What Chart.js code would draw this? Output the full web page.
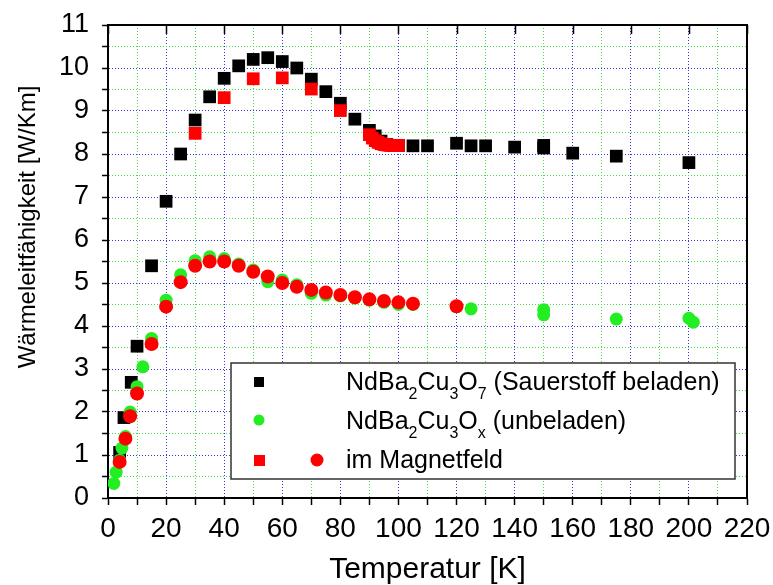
<!DOCTYPE html>
<html>
<head>
<meta charset="utf-8">
<script src="https://cdn.jsdelivr.net/npm/chart.js@4.4.0/dist/chart.umd.min.js"></script>
<style>
  html, body { margin: 0; padding: 0; background: #fff; }
  #chart { display: block; }
</style>
</head>
<body>
<canvas id="chart" width="773" height="585"></canvas>
<script>
// NdBa2Cu3O7, oxygen loaded (black squares)
const tempLoaded = [4, 5.5, 8, 10, 15, 20, 25, 30, 35, 40, 45, 50, 55, 60, 65, 70, 75, 80, 85, 90, 92, 94, 96, 98, 100, 105, 110, 120, 125, 130, 140, 150, 150, 160, 175, 200];
const kLoaded = [1.06, 1.87, 2.69, 3.53, 5.4, 6.9, 8.0, 8.79, 9.33, 9.76, 10.05, 10.2, 10.24, 10.15, 10.0, 9.74, 9.45, 9.18, 8.81, 8.55, 8.42, 8.3, 8.22, 8.2, 8.2, 8.19, 8.19, 8.25, 8.19, 8.19, 8.16, 8.2, 8.14, 8.02, 7.95, 7.8];

// NdBa2Cu3Ox, not loaded (green circles)
const tempUnloaded = [2, 2.8, 4, 4.8, 6, 7.6, 10, 12, 15, 20, 25, 30, 35, 40, 45, 50, 55, 60, 65, 70, 75, 80, 85, 90, 95, 100, 105, 120, 125, 150, 150, 175, 200, 201.5];
const kUnloaded = [0.34, 0.6, 0.88, 1.16, 1.43, 2.0, 2.59, 3.05, 3.71, 4.6, 5.19, 5.52, 5.61, 5.57, 5.44, 5.3, 5.03, 5.07, 4.96, 4.76, 4.72, 4.7, 4.65, 4.6, 4.55, 4.5, 4.5, 4.45, 4.4, 4.38, 4.26, 4.16, 4.18, 4.09];

// in magnetic field: loaded sample (red squares)
const tempFieldLoaded = [30, 40, 50, 60, 70, 80, 90, 91, 92, 93, 94, 95, 96, 97, 98, 99, 100];
const kFieldLoaded = [8.48, 9.31, 9.75, 9.77, 9.51, 9.01, 8.45, 8.37, 8.31, 8.27, 8.24, 8.22, 8.21, 8.2, 8.2, 8.2, 8.2];

// in magnetic field: unloaded sample (red circles)
const tempFieldUnloaded = [4, 6, 7.6, 10, 15, 20, 25, 30, 35, 40, 45, 50, 55, 60, 65, 70, 75, 80, 85, 90, 95, 100, 105, 120];
const kFieldUnloaded = [0.84, 1.38, 1.9, 2.43, 3.58, 4.45, 5.02, 5.4, 5.5, 5.5, 5.4, 5.26, 5.15, 5.0, 4.91, 4.84, 4.78, 4.72, 4.67, 4.62, 4.58, 4.55, 4.52, 4.46];

const xTickLabels = [0, 20, 40, 60, 80, 100, 120, 140, 160, 180, 200, 220];
const yTickLabels = [0, 1, 2, 3, 4, 5, 6, 7, 8, 9, 10, 11];

const FONT = '"Liberation Sans", Arial, sans-serif';
const BLUE_GRID = '#3535dd';
const GREEN_GRID = '#44dd44';

const pts = (xs, ys) => xs.map((x, i) => ({ x, y: ys[i] }));

// draws text with subscript parts: [[text, isSub], ...]
function richText(ctx, parts, x, y) {
  for (const [t, sub] of parts) {
    ctx.font = (sub ? '16px ' : '25px ') + FONT;
    ctx.fillText(t, x, sub ? y + 9 : y);
    x += ctx.measureText(t).width;
  }
}

const framePlugin = {
  id: 'frame',
  afterDraw(chart) {
    const { ctx, chartArea: a, scales: { x } } = chart;
    ctx.save();
    ctx.strokeStyle = '#000';
    ctx.lineWidth = 2;
    ctx.beginPath();
    ctx.moveTo(a.left, a.top);
    ctx.lineTo(a.right, a.top);
    ctx.lineTo(a.right, a.bottom);
    ctx.stroke();
    // inward ticks on the top edge
    ctx.lineWidth = 1.5;
    ctx.beginPath();
    xTickLabels.forEach(v => {
      const px = Math.round(x.getPixelForValue(v)) + 0.5;
      ctx.moveTo(px, a.top);
      ctx.lineTo(px, a.top + 9);
    });
    ctx.stroke();

    // y axis title, sitting a bit above the middle of the axis
    ctx.save();
    ctx.translate(28, 227);
    ctx.rotate(-Math.PI / 2);
    ctx.font = '24px ' + FONT;
    ctx.fillStyle = '#000';
    ctx.textAlign = 'center';
    ctx.textBaseline = 'middle';
    ctx.fillText('Wärmeleitfähigkeit [W/Km]', 0, 0);
    ctx.restore();

    // legend box
    const bx = 231, by = 363, bw = 504, bh = 116;
    ctx.fillStyle = '#fff';
    ctx.fillRect(bx, by, bw, bh);
    ctx.strokeStyle = '#333';
    ctx.lineWidth = 1.5;
    ctx.strokeRect(bx, by, bw, bh);

    ctx.fillStyle = '#000';
    ctx.fillRect(254, 377, 10, 10);
    ctx.fillStyle = '#22ee22';
    ctx.beginPath(); ctx.arc(259, 420, 5.5, 0, Math.PI * 2); ctx.fill();
    ctx.fillStyle = '#ff0000';
    ctx.fillRect(254, 455, 11, 11);
    ctx.beginPath(); ctx.arc(317, 460, 6.5, 0, Math.PI * 2); ctx.fill();

    ctx.fillStyle = '#000';
    ctx.textBaseline = 'alphabetic';
    ctx.textAlign = 'left';
    richText(ctx, [['NdBa', 0], ['2', 1], ['Cu', 0], ['3', 1], ['O', 0], ['7', 1], [' (Sauerstoff beladen)', 0]], 346, 390);
    richText(ctx, [['NdBa', 0], ['2', 1], ['Cu', 0], ['3', 1], ['O', 0], ['x', 1], [' (unbeladen)', 0]], 346, 429);
    richText(ctx, [['im Magnetfeld', 0]], 346, 468);
    ctx.restore();
  }
};

new Chart(document.getElementById('chart'), {
  type: 'scatter',
  data: {
    datasets: [
      { label: 'im Magnetfeld (Kreise)', data: pts(tempFieldUnloaded, kFieldUnloaded),
        pointStyle: 'circle', pointRadius: 7, backgroundColor: '#ff0000', borderWidth: 0, order: 0 },
      { label: 'im Magnetfeld (Quadrate)', data: pts(tempFieldLoaded, kFieldLoaded),
        pointStyle: 'rect', pointRadius: 9, backgroundColor: '#ff0000', borderWidth: 0, order: 1 },
      { label: 'NdBa2Cu3Ox (unbeladen)', data: pts(tempUnloaded, kUnloaded),
        pointStyle: 'circle', pointRadius: 6.5, backgroundColor: '#22ee22', borderWidth: 0, order: 2 },
      { label: 'NdBa2Cu3O7 (Sauerstoff beladen)', data: pts(tempLoaded, kLoaded),
        pointStyle: 'rect', pointRadius: 9, backgroundColor: '#000000', borderWidth: 0, order: 3 }
    ]
  },
  options: {
    responsive: false,
    animation: false,
    layout: { padding: { left: 0, top: 25, right: 26, bottom: 0 } },
    plugins: { legend: { display: false }, tooltip: { enabled: false } },
    scales: {
      x: {
        type: 'linear', min: 0, max: 220,
        afterFit: s => { s.height = 87; s.paddingLeft = 0; s.paddingRight = 0; },
        ticks: {
          stepSize: 10, autoSkip: false, maxRotation: 0, padding: 7,
          color: '#000', font: { family: FONT, size: 28 },
          callback: v => xTickLabels.includes(v) ? String(v) : ''
        },
        grid: {
          color: c => (c.tick && c.tick.value % 20 === 0) ? BLUE_GRID : GREEN_GRID,
          lineWidth: 1, tickLength: 7, tickColor: '#000', tickWidth: 1.5, tickBorderDash: []
        },
        border: { display: true, color: '#000', width: 2, dash: [1, 2] },
        title: { display: true, text: 'Temperatur [K]', color: '#000',
          font: { family: FONT, size: 30, lineHeight: 1 }, padding: { top: 0, bottom: 0 } }
      },
      y: {
        type: 'linear', min: 0, max: 11,
        afterFit: s => { s.width = 108; s.paddingTop = 0; s.paddingBottom = 0; },
        ticks: {
          stepSize: 0.5, autoSkip: false, padding: 13,
          color: '#000', font: { family: FONT, size: 27 },
          callback: v => yTickLabels.includes(v) ? String(v) : ''
        },
        grid: {
          color: c => (c.tick && Number.isInteger(c.tick.value)) ? BLUE_GRID : GREEN_GRID,
          lineWidth: 1, tickLength: 6, tickColor: '#000', tickWidth: 1.5, tickBorderDash: []
        },
        border: { display: true, color: '#000', width: 2, dash: [1, 2] }
      }
    }
  },
  plugins: [framePlugin]
});
</script>
</body>
</html>
